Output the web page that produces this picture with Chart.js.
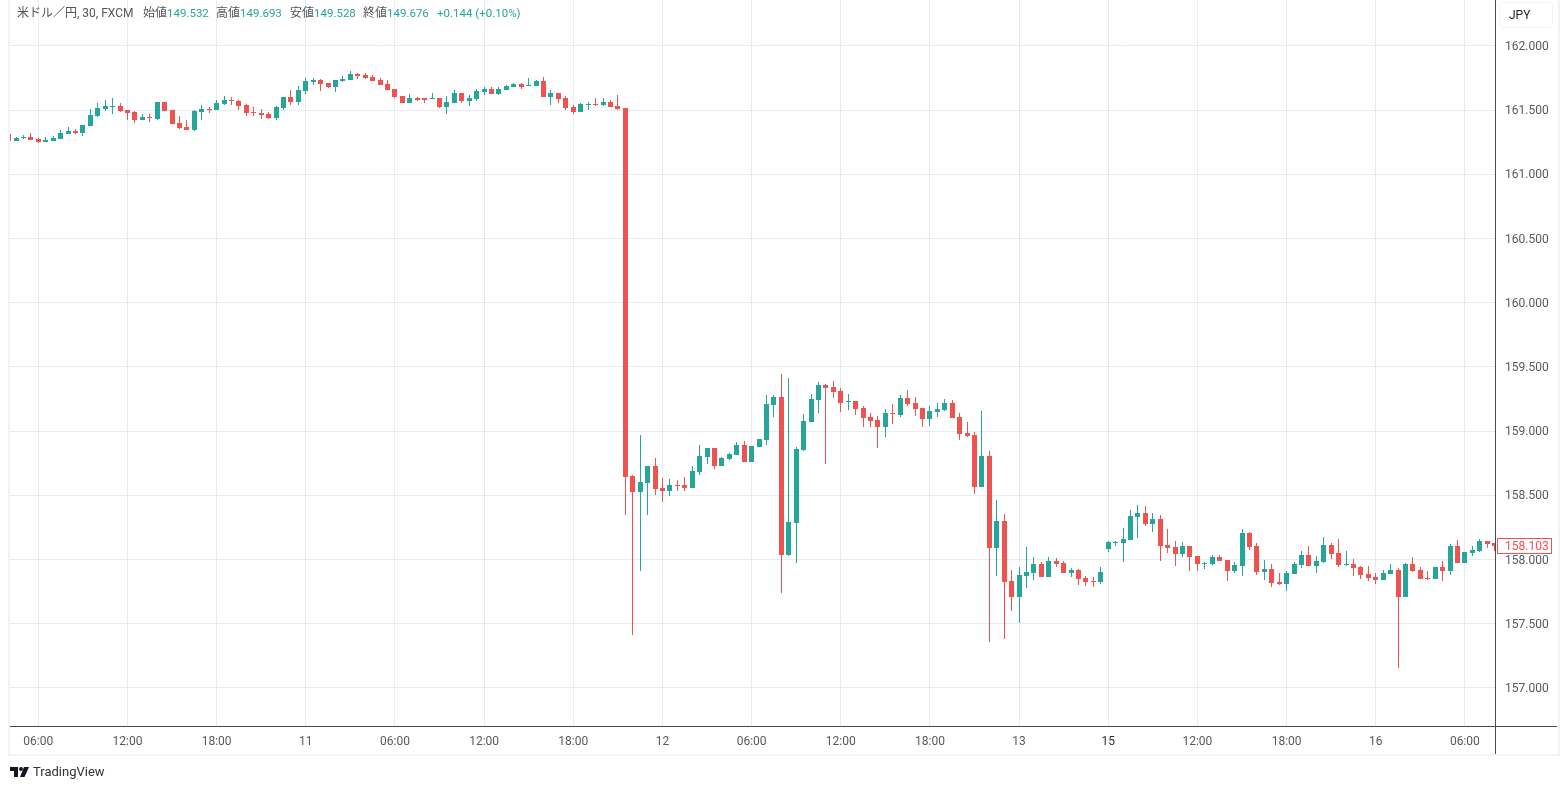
<!DOCTYPE html>
<html lang="ja">
<head>
<meta charset="UTF-8" />
<title>米ドル／円</title>
<script src="https://cdn.jsdelivr.net/npm/chart.js"></script>
<style>
  body { margin: 0; background: #fff; font-family: Roboto, "Noto Sans CJK JP", sans-serif; overflow: hidden; }
  #frame { position: absolute; left: 8px; top: 0; width: 1548px; height: 754px; border: 2px solid #f1f3f6; border-top: 0; }
  canvas { position: absolute; left: 0; top: 0; }
  .lg { position: absolute; top: 6px; font-size: 12px; line-height: 14px; color: #555; white-space: nowrap; }
  .val { color: #26a69a; font-size: 11.5px; }
  #cur { position: absolute; left: 1499px; top: 2px; width: 52px; height: 24px; border: 1px solid #f1f3f6; border-radius: 4px; font-size: 12px; line-height: 25px; color: #222; text-indent: 9px; }
  #logo { position: absolute; left: 10px; top: 767px; }
  #brand { position: absolute; left: 33px; top: 764px; font-size: 13px; line-height: 16px; color: #333; }
</style>
</head>
<body>
<div id="frame"></div>
<canvas id="fx" width="1567" height="790"></canvas>

<div class="lg" style="left:17px">米ドル／円, 30, FXCM</div>
<div class="lg" style="left:143px">始値<span class="val">149.532</span></div>
<div class="lg" style="left:216px">高値<span class="val">149.693</span></div>
<div class="lg" style="left:290px">安値<span class="val">149.528</span></div>
<div class="lg" style="left:363px">終値<span class="val">149.676</span></div>
<div class="lg val" style="left:437px">+0.144 (+0.10%)</div>
<div id="cur">JPY</div>
<svg id="logo" width="20" height="10" viewBox="0 0 20 10">
  <path d="M0 0H8V10H4V4H0Z M14 0L10 10H14.5L19 0Z" fill="#131722" />
  <circle cx="11" cy="2" r="2" fill="#131722" />
</svg>
<div id="brand">TradingView</div>

<script>
// 30 minute candles
const opens = [
  161.316,161.261,161.287,161.292,161.277,161.253,161.261,161.277,161.316,161.339,
  161.323,161.378,161.456,161.510,161.526,161.534,161.503,161.487,161.425,161.448,
  161.432,161.565,161.503,161.401,161.370,161.347,161.487,161.510,161.503,161.549,
  161.581,161.573,161.542,161.487,161.479,161.471,161.440,161.518,161.604,161.565,
  161.651,161.721,161.736,161.713,161.682,161.729,161.736,161.783,161.775,161.760,
  161.736,161.705,161.666,161.612,161.557,161.596,161.591,161.588,161.596,161.526,
  161.557,161.635,161.573,161.588,161.643,161.666,161.627,161.658,161.682,161.705,
  161.690,161.690,161.729,161.604,161.635,161.596,161.526,161.487,161.542,161.549,
  161.542,161.565,161.534,161.518,158.652,158.527,158.597,158.730,158.558,158.535,
  158.582,158.582,158.558,158.683,158.800,158.870,158.730,158.784,158.816,158.894,
  158.761,158.878,158.932,159.205,159.268,158.036,158.286,158.855,159.073,159.244,
  159.361,159.345,159.314,159.229,159.236,159.182,159.112,159.088,159.034,159.143,
  159.127,159.260,159.221,159.182,159.096,159.151,159.166,159.221,159.112,158.987,
  158.971,158.566,158.808,158.091,158.301,157.834,157.709,157.870,157.894,157.964,
  157.862,157.987,157.971,157.894,157.917,157.855,157.831,157.823,158.081,158.127,
  158.127,158.151,158.330,158.361,158.275,158.314,158.112,158.096,158.042,158.104,
  158.026,157.966,157.964,158.018,157.995,157.909,157.948,158.205,158.104,157.901,
  157.925,157.823,157.808,157.886,157.956,158.034,157.948,157.979,158.112,158.049,
  157.956,157.964,157.940,157.886,157.862,157.839,157.886,157.917,157.706,157.964,
  157.917,157.855,157.847,157.940,157.909,158.104,157.971,158.049,158.065,158.143,
  158.127
];
const highs = [
  161.316,161.292,161.303,161.323,161.284,161.292,161.300,161.347,161.370,161.352,
  161.386,161.510,161.557,161.581,161.596,161.557,161.503,161.495,161.471,161.471,
  161.565,161.565,161.503,161.456,161.425,161.503,161.542,161.526,161.581,161.612,
  161.604,161.581,161.549,161.526,161.510,161.487,161.534,161.604,161.658,161.690,
  161.752,161.752,161.744,161.713,161.736,161.768,161.806,161.791,161.791,161.775,
  161.752,161.736,161.666,161.612,161.627,161.604,161.596,161.635,161.596,161.612,
  161.658,161.635,161.619,161.666,161.682,161.682,161.682,161.697,161.713,161.713,
  161.752,161.736,161.760,161.658,161.635,161.612,161.542,161.557,161.565,161.596,
  161.596,161.581,161.619,161.518,158.660,158.971,158.730,158.792,158.636,158.629,
  158.621,158.644,158.730,158.894,158.870,158.870,158.800,158.831,158.917,158.925,
  158.886,158.940,159.283,159.283,159.447,159.416,158.878,159.135,159.291,159.384,
  159.369,159.392,159.338,159.291,159.236,159.197,159.143,159.119,159.174,159.213,
  159.283,159.322,159.268,159.182,159.197,159.221,159.252,159.244,159.143,159.073,
  158.995,159.158,158.847,158.465,158.356,157.919,157.943,158.096,158.018,157.979,
  158.018,158.010,157.987,157.932,157.925,157.870,157.862,157.940,158.143,158.143,
  158.244,158.384,158.423,158.416,158.361,158.345,158.236,158.143,158.135,158.104,
  158.026,157.979,158.034,158.034,157.995,157.979,158.236,158.213,158.127,157.995,
  157.964,157.894,157.909,157.979,158.065,158.104,158.026,158.174,158.127,158.158,
  158.065,158.003,157.948,157.948,157.894,157.917,157.964,157.932,157.971,158.018,
  157.940,157.909,157.940,157.987,158.119,158.151,158.057,158.104,158.158,158.143,
  158.127
];
const lows = [
  161.261,161.261,161.272,161.269,161.245,161.253,161.261,161.277,161.316,161.316,
  161.300,161.378,161.448,161.495,161.471,161.487,161.425,161.401,161.425,161.409,
  161.425,161.495,161.394,161.355,161.347,161.339,161.425,161.479,161.503,161.542,
  161.542,161.503,161.456,161.456,161.432,161.432,161.425,161.503,161.542,161.542,
  161.627,161.697,161.651,161.674,161.643,161.721,161.736,161.744,161.744,161.729,
  161.697,161.658,161.596,161.557,161.557,161.573,161.557,161.588,161.518,161.471,
  161.557,161.557,161.534,161.573,161.619,161.627,161.619,161.658,161.682,161.666,
  161.690,161.690,161.604,161.542,161.557,161.503,161.471,161.487,161.503,161.534,
  161.534,161.526,161.503,158.348,157.413,157.912,158.348,158.504,158.449,158.496,
  158.535,158.535,158.558,158.660,158.745,158.706,158.730,158.777,158.816,158.761,
  158.761,158.878,158.894,159.112,157.740,158.029,157.974,158.847,159.073,159.143,
  158.745,159.260,159.151,159.166,159.127,159.034,159.034,158.870,158.956,159.057,
  159.112,159.197,159.119,159.034,159.042,159.112,159.158,159.104,158.932,158.956,
  158.512,158.566,157.358,157.873,157.382,157.600,157.506,157.777,157.839,157.862,
  157.862,157.940,157.894,157.862,157.800,157.792,157.784,157.808,158.057,158.104,
  157.979,158.151,158.166,158.260,158.213,157.987,158.049,157.948,158.018,157.909,
  157.909,157.925,157.956,157.987,157.831,157.894,157.870,158.073,157.878,157.839,
  157.784,157.800,157.753,157.886,157.932,157.948,157.894,157.971,158.003,157.940,
  157.948,157.870,157.847,157.831,157.808,157.839,157.886,157.153,157.706,157.901,
  157.847,157.839,157.847,157.831,157.878,157.971,157.971,158.026,158.057,158.088,
  158.065
];
const closes = [
  161.261,161.282,161.292,161.269,161.253,161.269,161.282,161.323,161.339,161.323,
  161.386,161.464,161.518,161.534,161.534,161.495,161.479,161.425,161.448,161.440,
  161.565,161.495,161.394,161.362,161.347,161.495,161.510,161.503,161.557,161.581,
  161.575,161.534,161.479,161.479,161.464,161.440,161.526,161.604,161.565,161.658,
  161.729,161.736,161.705,161.682,161.736,161.744,161.783,161.768,161.752,161.729,
  161.697,161.658,161.604,161.557,161.596,161.581,161.583,161.596,161.526,161.565,
  161.635,161.573,161.596,161.651,161.666,161.627,161.666,161.690,161.705,161.682,
  161.697,161.729,161.604,161.635,161.588,161.518,161.487,161.549,161.549,161.542,
  161.565,161.526,161.510,158.644,158.527,158.605,158.730,158.551,158.535,158.582,
  158.577,158.558,158.691,158.808,158.870,158.730,158.792,158.823,158.894,158.761,
  158.886,158.940,159.213,159.268,158.036,158.294,158.862,159.081,159.252,159.361,
  159.338,159.306,159.221,159.236,159.174,159.104,159.081,159.034,159.143,159.135,
  159.260,159.213,159.174,159.096,159.158,159.174,159.221,159.104,158.979,158.964,
  158.566,158.808,158.091,158.301,157.826,157.709,157.881,157.901,157.964,157.862,
  157.987,157.964,157.894,157.917,157.847,157.823,157.826,157.901,158.135,158.135,
  158.158,158.338,158.361,158.275,158.314,158.104,158.088,158.042,158.104,158.018,
  157.964,157.971,158.018,157.987,157.909,157.956,158.205,158.096,157.901,157.925,
  157.816,157.808,157.894,157.964,158.034,157.948,157.987,158.112,158.042,157.956,
  157.964,157.932,157.878,157.855,157.839,157.894,157.917,157.706,157.964,157.909,
  157.847,157.847,157.940,157.909,158.104,157.971,158.057,158.073,158.143,158.119,
  158.103
];

const timeTickBars = [4, 16, 28, 40, 52, 64, 76, 88, 100, 112, 124, 136, 148, 160, 172, 184, 196];
const timeTickLabels = ["06:00", "12:00", "18:00", "11", "06:00", "12:00", "18:00", "12", "06:00", "12:00", "18:00", "13", "15", "12:00", "18:00", "16", "06:00"];
const priceTicks = [157, 157.5, 158, 158.5, 159, 159.5, 160, 160.5, 161, 161.5, 162];

const upColor = "#26a69a";
const downColor = "#ef5350";
const gridColor = "#e3edf3";
const axisColor = "#4a4a50";
const textColor = "#555a60";

function candleColor(ctx) {
  return closes[ctx.dataIndex] >= opens[ctx.dataIndex] ? upColor : downColor;
}

// keep bodies and wicks on whole pixels, the original is crisp
const snapBars = {
  id: "snapBars",
  afterDatasetsUpdate(chart) {
    chart.data.datasets.forEach((ds, d) => {
      chart.getDatasetMeta(d).data.forEach(bar => {
        bar.x = Math.floor(bar.x) + 0.5;
        bar.y = Math.round(bar.y);
        bar.base = Math.round(bar.base);
        if (bar.y === bar.base) bar.base = bar.y + 1;
      });
    });
  }
};

const axisLines = {
  id: "axisLines",
  afterDraw(chart) {
    const c = chart.ctx, a = chart.chartArea;
    c.save();
    c.fillStyle = axisColor;
    c.fillRect(a.left, a.bottom, 1547, 1);
    c.fillRect(a.right, 0, 1, 754);

    // last price tag
    const y = Math.round(chart.scales.y.getPixelForValue(closes[closes.length - 1]));
    c.fillStyle = "#fff";
    c.fillRect(a.right + 2, y - 8, 54, 16);
    c.strokeStyle = downColor;
    c.strokeRect(a.right + 2.5, y - 7.5, 54, 15);
    c.fillStyle = downColor;
    c.font = "12px Roboto";
    c.textBaseline = "middle";
    c.fillText(closes[closes.length - 1].toFixed(3), a.right + 10, y + 1);
    c.restore();
  }
};

function noOverflow(s) {
  s.paddingTop = 0;
  s.paddingBottom = 0;
  s.paddingLeft = 0;
  s.paddingRight = 0;
}

new Chart("fx", {
  type: "bar",
  data: {
    datasets: [
      {
        label: "wick",
        data: lows.map((l, i) => ({ x: i, y: [l, highs[i]] })),
        backgroundColor: candleColor,
        barThickness: 1,
        inflateAmount: 0,
        order: 2
      },
      {
        label: "body",
        data: opens.map((o, i) => ({ x: i, y: [o, closes[i]] })),
        backgroundColor: candleColor,
        barThickness: 5,
        inflateAmount: 0,
        order: 1
      }
    ]
  },
  options: {
    responsive: false,
    animation: false,
    events: [],
    grouped: false,
    layout: { padding: { left: 10, right: 10, top: 0, bottom: 36 } },
    plugins: { legend: { display: false }, tooltip: { enabled: false } },
    scales: {
      x: {
        type: "linear",
        offset: false,
        min: 0.19,
        max: 200.05,
        grid: { color: gridColor, drawTicks: false, offset: false },
        border: { display: false },
        afterBuildTicks: s => { s.ticks = timeTickBars.map(v => ({ value: v })); },
        afterFit: s => { s.height = 28; noOverflow(s); },
        ticks: {
          autoSkip: false,
          maxRotation: 0,
          padding: 9,
          color: ctx => ctx.tick.value === 148 ? "#2a2e39" : textColor,
          font: { family: "Roboto", size: 12 },
          callback: v => timeTickLabels[timeTickBars.indexOf(v)]
        }
      },
      y: {
        position: "right",
        min: 156.704,
        max: 162.358,
        grid: { color: gridColor, drawTicks: false },
        border: { display: false },
        afterBuildTicks: s => { s.ticks = priceTicks.map(v => ({ value: v })); },
        afterFit: s => { s.width = 62; noOverflow(s); },
        ticks: {
          padding: 10,
          labelOffset: 1,
          color: textColor,
          font: { family: "Roboto", size: 12 },
          callback: v => v.toFixed(3)
        }
      }
    }
  },
  plugins: [snapBars, axisLines]
});
</script>
</body>
</html>
